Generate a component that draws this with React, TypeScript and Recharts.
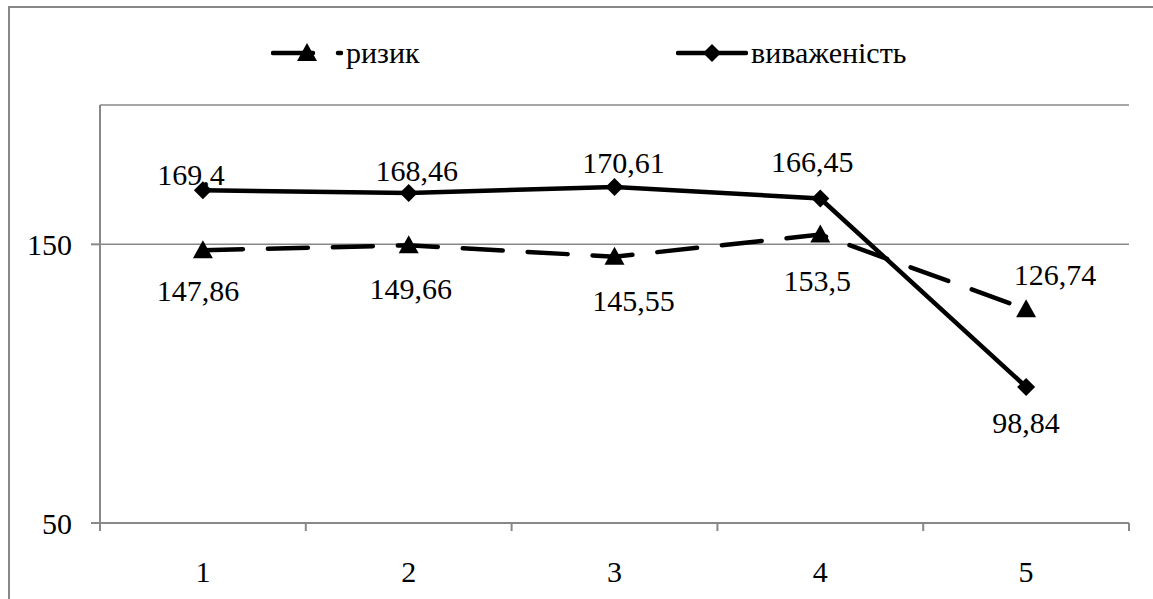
import { LineChart, Line, XAxis, YAxis, CartesianGrid } from 'recharts';

const categories = [1, 2, 3, 4, 5];
const riskValues = [147.86, 149.66, 145.55, 153.5, 126.74];
const balanceValues = [169.4, 168.46, 170.61, 166.45, 98.84];
const yTicks = [50, 150];
const boundaryTicks = [0.5, 1.5, 2.5, 3.5, 4.5, 5.5];

const data = categories.map((c, i) => ({
  x: c,
  risk: riskValues[i],
  balance: balanceValues[i],
}));

// label nudges (dx, dy from the point centre), as placed in the original
const riskLabelOffsets = [
  [-5, 40],
  [2, 43],
  [19, 44],
  [-3, 46],
  [29, -35],
];
const balanceLabelOffsets = [
  [-12, -16],
  [8, -22],
  [9, -24],
  [-8, -37],
  [0, 36],
];

const FONT = 'Liberation Serif';
const AXIS = '#888888';
const W = 1153;
const H = 599;
const LEFT = 100;
const RIGHT = 24;
const STEP = (W - LEFT - RIGHT) / categories.length;

function fmt(v: number) {
  return String(v).replace('.', ',');
}

function makeLabel(offsets: number[][]) {
  return (props: any) => {
    const { x, y, value, index } = props;
    const [dx, dy] = offsets[index] || [0, 0];
    return (
      <text
        x={x + dx}
        y={y + dy}
        textAnchor="middle"
        dominantBaseline="central"
        style={{ fontFamily: FONT, fontSize: 30 }}
        fill="#000"
      >
        {fmt(value)}
      </text>
    );
  };
}

function Triangle(props: any) {
  const { cx, cy } = props;
  if (cx == null || cy == null) return null;
  return <path d={`M${cx},${cy - 10} L${cx + 10},${cy + 8} L${cx - 10},${cy + 8} Z`} fill="#000" />;
}

function Diamond(props: any) {
  const { cx, cy } = props;
  if (cx == null || cy == null) return null;
  return <path d={`M${cx},${cy - 9} L${cx + 9},${cy} L${cx},${cy + 9} L${cx - 9},${cy} Z`} fill="#000" />;
}

function XTick(props: any) {
  const { x, y, payload } = props;
  const v = payload.value + 0.5;
  if (v > categories[categories.length - 1]) return null;
  return (
    <text
      x={x + STEP / 2}
      y={y + 38}
      textAnchor="middle"
      dominantBaseline="central"
      style={{ fontFamily: FONT, fontSize: 30 }}
      fill="#000"
    >
      {v}
    </text>
  );
}

function LegendItem({ label, dashed, marker }: { label: string; dashed: boolean; marker: 'tri' | 'dia' }) {
  return (
    <div style={{ display: 'flex', alignItems: 'center' }}>
      <svg width={72} height={24}>
        <line
          x1={2}
          y1={12}
          x2={70}
          y2={12}
          stroke="#000"
          strokeWidth={4.5}
          strokeLinecap="round"
          strokeDasharray={dashed ? '40 25' : undefined}
        />
        {marker === 'tri' ? <Triangle cx={36} cy={12} /> : <Diamond cx={36} cy={12} />}
      </svg>
      <span style={{ marginLeft: 3, fontSize: 30, fontFamily: FONT, lineHeight: '30px' }}>{label}</span>
    </div>
  );
}

export default function App() {
  return (
    <div
      style={{
        position: 'absolute',
        left: 0,
        top: 0,
        width: W,
        height: H,
        overflow: 'hidden',
        background: '#fff',
        fontFamily: FONT,
      }}
    >
      <div
        style={{
          position: 'absolute',
          left: 8,
          top: 6,
          width: W - 8,
          height: H - 6,
          borderTop: `2px solid ${AXIS}`,
          borderLeft: `2px solid ${AXIS}`,
          boxSizing: 'border-box',
        }}
      />
      <div style={{ position: 'absolute', left: 271, top: 38, display: 'flex' }}>
        <div style={{ width: 405 }}>
          <LegendItem label="ризик" dashed marker="tri" />
        </div>
        <LegendItem label="виваженість" dashed={false} marker="dia" />
      </div>
      <div style={{ position: 'absolute', left: 0, top: 0 }}>
        <LineChart
          width={W}
          height={H}
          data={data}
          margin={{ top: 105, right: RIGHT, bottom: 0, left: 0 }}
          style={{ fontFamily: FONT }}
        >
          <CartesianGrid vertical={false} stroke={AXIS} strokeWidth={1.5} />
          <XAxis
            dataKey="x"
            type="number"
            domain={[0.5, 5.5]}
            ticks={boundaryTicks}
            height={76}
            tickSize={8}
            stroke={AXIS}
            strokeWidth={2}
            tick={<XTick />}
            allowDataOverflow
          />
          <YAxis
            type="number"
            domain={[50, 200]}
            ticks={yTicks}
            width={LEFT}
            tickSize={9}
            tickMargin={19}
            stroke={AXIS}
            strokeWidth={2}
            tick={{ fontSize: 30, fontFamily: FONT, fill: '#000' }}
            allowDataOverflow
          />
          <Line
            dataKey="risk"
            type="linear"
            stroke="#000"
            strokeWidth={4.5}
            strokeDasharray="40 25"
            strokeLinecap="round"
            dot={<Triangle />}
            activeDot={false}
            label={makeLabel(riskLabelOffsets)}
            isAnimationActive={false}
          />
          <Line
            dataKey="balance"
            type="linear"
            stroke="#000"
            strokeWidth={4.5}
            dot={<Diamond />}
            activeDot={false}
            label={makeLabel(balanceLabelOffsets)}
            isAnimationActive={false}
          />
        </LineChart>
      </div>
    </div>
  );
}
